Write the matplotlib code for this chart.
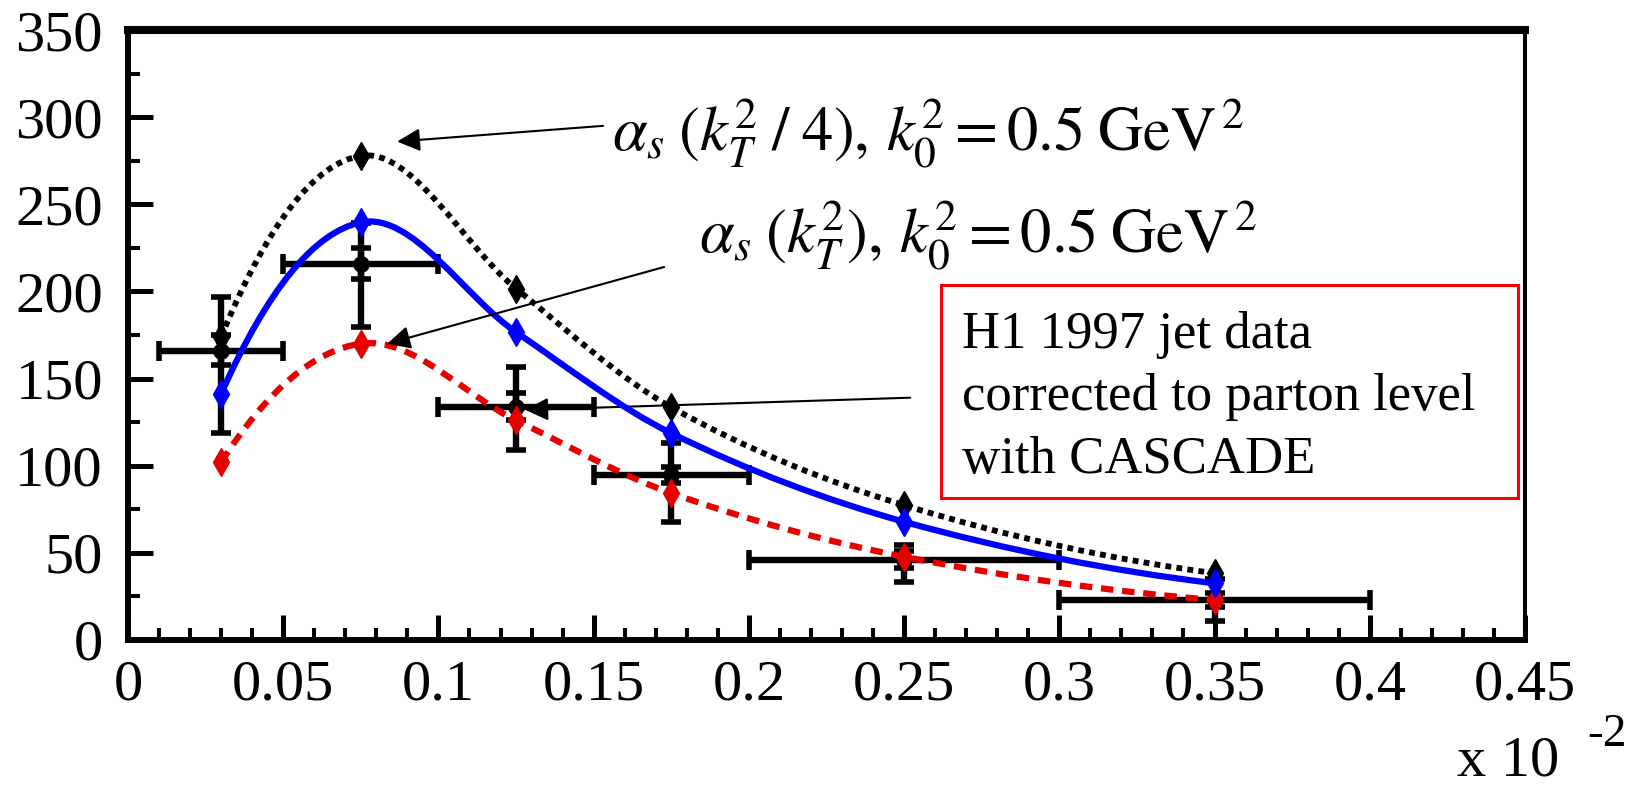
import numpy as np
import matplotlib
matplotlib.use("Agg")
import matplotlib.pyplot as plt
from matplotlib.path import Path
from matplotlib.patches import PathPatch, Rectangle
from matplotlib.ticker import MultipleLocator, FixedLocator, FixedFormatter

plt.rcParams["font.family"] = ["Liberation Serif", "DejaVu Serif"]
plt.rcParams["mathtext.fontset"] = "stix"

# H1 1997 jet data (x in units of 10^-2)
x_data = [0.03, 0.075, 0.125, 0.175, 0.25, 0.35]
x_lo = [0.01, 0.05, 0.10, 0.15, 0.20, 0.30]
x_hi = [0.05, 0.10, 0.15, 0.20, 0.30, 0.40]
y_data = [166, 215.5, 133.5, 94.5, 46, 23]
y_tot_lo = [118.5, 179.5, 108.8, 67.8, 33.4, 11]
y_tot_hi = [196.6, 239, 156.4, 113, 54.4, 35]
y_stat_lo = [157.5, 207.2, 126, 90, 41, 19]
y_stat_hi = [174.7, 224.7, 141.5, 99.3, 51, 27]

# model curves
x_model = [0.03, 0.075, 0.125, 0.175, 0.25, 0.35]
y_kt4 = [174, 277.8, 201.6, 133.5, 77.3, 38.3]     # alpha_s(kT^2/4)
y_kt = [141.3, 239.6, 176.6, 118.6, 67.8, 32.5]    # alpha_s(kT^2)
y_red = [102, 170, 126, 84.2, 47.7, 22.9]

x_ticks = [0, 0.05, 0.1, 0.15, 0.2, 0.25, 0.3, 0.35, 0.4, 0.45]
x_ticklabels = ["0", "0.05", "0.1", "0.15", "0.2", "0.25", "0.3", "0.35", "0.4", "0.45"]
y_ticks = [0, 50, 100, 150, 200, 250, 300, 350]

label_kt4 = r"$\alpha_s\;(k_T^2\;/\;4),\,k_0^2 = 0.5\;\mathrm{GeV}^{\,2}$"
label_kt = r"$\alpha_s\;(k_T^2),\,k_0^2 = 0.5\;\mathrm{GeV}^{\,2}$"
box_lines = ["H1 1997 jet data", "corrected to parton level", "with CASCADE"]


def smooth_path(x, y):
    # cubic hermite through the points, drawn as bezier segments
    x = np.asarray(x, float)
    y = np.asarray(y, float)
    m = np.empty_like(y)
    m[1:-1] = (y[2:] - y[:-2]) / (x[2:] - x[:-2])
    m[0] = 2 * (y[1] - y[0]) / (x[1] - x[0]) - m[1]
    m[-1] = 2 * (y[-1] - y[-2]) / (x[-1] - x[-2]) - m[-2]
    verts = [(x[0], y[0])]
    codes = [Path.MOVETO]
    for i in range(len(x) - 1):
        h = x[i + 1] - x[i]
        verts += [(x[i] + h / 3, y[i] + m[i] * h / 3),
                  (x[i + 1] - h / 3, y[i + 1] - m[i + 1] * h / 3),
                  (x[i + 1], y[i + 1])]
        codes += [Path.CURVE4] * 3
    return Path(verts, codes)


fig = plt.figure(figsize=(16.41, 7.90), dpi=100)
ax = fig.add_axes([0.078, 0.19, 0.8513, 0.772])

xd = np.array(x_data)
yd = np.array(y_data)
xerr = [xd - np.array(x_lo), np.array(x_hi) - xd]
yerr_tot = [yd - np.array(y_tot_lo), np.array(y_tot_hi) - yd]
yerr_stat = [yd - np.array(y_stat_lo), np.array(y_stat_hi) - yd]

ax.errorbar(xd, yd, xerr=xerr, yerr=yerr_tot, fmt="o", color="black", ms=11,
            elinewidth=4.6, capsize=7.5, capthick=4, zorder=2)
ax.errorbar(xd, yd, yerr=yerr_stat, fmt="none", ecolor="black",
            elinewidth=4.6, capsize=7.5, capthick=4, zorder=2)

curves = [
    (y_kt4, "black", (0, (1.0, 0.9)), 4.2),
    (y_red, "#e60000", (0, (2.0, 1.4)), 4.5),
    (y_kt, "#0000ff", "solid", 4.5),
]
for yv, col, ls, lw in curves:
    ax.add_patch(PathPatch(smooth_path(x_model, yv), fill=False, edgecolor=col,
                           linestyle=ls, linewidth=lw, capstyle="butt", zorder=3))
    ax.plot(x_model, yv, linestyle="none", marker="d", ms=14, color=col, zorder=4)

ax.set_xlim(0, 0.45)
ax.set_ylim(0, 350)
ax.xaxis.set_major_locator(FixedLocator(x_ticks))
ax.xaxis.set_major_formatter(FixedFormatter(x_ticklabels))
ax.xaxis.set_minor_locator(MultipleLocator(0.01))
ax.yaxis.set_major_locator(FixedLocator(y_ticks))
ax.yaxis.set_minor_locator(MultipleLocator(25))
ax.tick_params(which="both", direction="in", top=False, right=False, labelsize=42)
ax.tick_params(which="major", length=18, width=3.6)
ax.tick_params(which="minor", length=8.6, width=2.9)
ax.tick_params(axis="x", pad=14)
ax.tick_params(axis="y", pad=18)
ax.spines["left"].set_linewidth(4.3)
ax.spines["bottom"].set_linewidth(4.3)
ax.spines["top"].set_linewidth(5.8)
ax.spines["right"].set_linewidth(2.9)

arrow = dict(arrowstyle="-|>,head_length=0.5,head_width=0.25", color="black",
             lw=1.5, mutation_scale=28, shrinkA=0, shrinkB=0)
ax.annotate("", xy=(0.0867, 286), xytext=(0.153, 295), arrowprops=arrow, zorder=5)
ax.annotate("", xy=(0.0835, 170), xytext=(0.1727, 214), arrowprops=arrow, zorder=5)
ax.annotate("", xy=(0.128, 132), xytext=(0.252, 139), arrowprops=arrow, zorder=1.5)

ax.text(0.156, 280.7, label_kt4, fontsize=45, ha="left", va="baseline")
ax.text(0.184, 222.3, label_kt, fontsize=45, ha="left", va="baseline")

ax.add_patch(Rectangle((0.2619, 81.3), 0.4478 - 0.2619, 203.4 - 81.3, fill=True,
                       facecolor="white", edgecolor="#ff0000", lw=2.2, zorder=5))
for i, line in enumerate(box_lines):
    ax.text(0.2687, 167.8 - 36.1 * i, line, fontsize=38, ha="left", va="baseline", zorder=6)

fig.text(1457 / 1641, 1 - 776 / 790, "x 10", fontsize=42, ha="left", va="baseline")
fig.text(1587 / 1641, 1 - 714 / 790, "-2", fontsize=34, ha="left", va="top")

fig.savefig("out.png", dpi=100)
